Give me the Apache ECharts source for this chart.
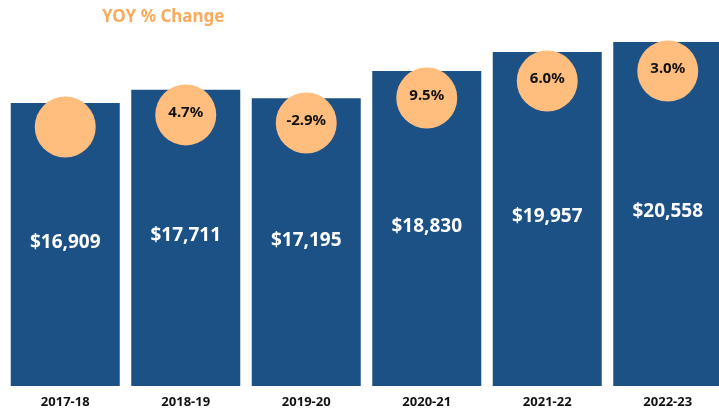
<!DOCTYPE html>
<html>
<head>
<meta charset="utf-8">
<script src="https://cdn.jsdelivr.net/npm/echarts@6/dist/echarts.min.js"></script>
<style>
  html, body { margin: 0; padding: 0; background: #fff; }
  #chart { width: 719px; height: 412px; }
</style>
</head>
<body>
<div id="chart"></div>
<script>
// fiscal years
const years = ['2017-18', '2018-19', '2019-20', '2020-21', '2021-22', '2022-23']
// dollar amounts per year
const amounts = [16909, 17711, 17195, 18830, 19957, 20558]
// year over year change, first year has none
const yoyPct = [null, 4.7, -2.9, 9.5, 6.0, 3.0]
// where the orange circles sit on the value axis
const circleLevel = [15480, 16200, 15720, 17210, 18230, 18820]

const barColor = '#1c5186'
const circleColor = '#ffbd7e'
const font = '"Noto Sans", "Open Sans", sans-serif'

const chart = echarts.init(document.getElementById('chart'))

chart.setOption({
  animation: false,
  title: {
    text: 'YOY % Change',
    left: 97,
    top: 4,
    textStyle: {
      color: '#f9aa5c',
      fontFamily: font,
      fontWeight: 'bold',
      fontSize: 17
    }
  },
  grid: {
    left: 5,
    right: -9,
    top: 42,
    bottom: 26,
    outerBoundsMode: 'none'
  },
  xAxis: {
    type: 'category',
    data: years,
    axisLine: { show: false },
    axisTick: { show: false },
    axisLabel: {
      color: '#111',
      fontFamily: font,
      fontWeight: 'bold',
      fontSize: 13,
      margin: 10
    }
  },
  yAxis: {
    type: 'value',
    min: 0,
    max: 'dataMax',
    show: false,
    splitLine: { show: false }
  },
  series: [{
    name: 'Amount',
    type: 'bar',
    barWidth: 109,
    data: amounts,
    itemStyle: { color: barColor },
    label: {
      show: true,
      position: 'inside',
      offset: [0, -2],
      formatter: p => '$' + p.value.toLocaleString('en-US'),
      color: '#fff',
      fontFamily: font,
      fontWeight: 'bold',
      fontSize: 19
    },
    z: 1
  }, {
    name: 'YOY',
    type: 'scatter',
    symbol: 'circle',
    symbolSize: 61,
    data: circleLevel.map((v, i) => ({ value: v, pct: yoyPct[i] })),
    itemStyle: { color: circleColor, opacity: 1 },
    label: {
      show: true,
      position: 'inside',
      offset: [0, -2],
      formatter: p => p.data.pct === null ? '' : p.data.pct.toFixed(1) + '%',
      color: '#111',
      fontFamily: font,
      fontWeight: 'bold',
      fontSize: 15
    },
    z: 2
  }]
})
</script>
</body>
</html>
